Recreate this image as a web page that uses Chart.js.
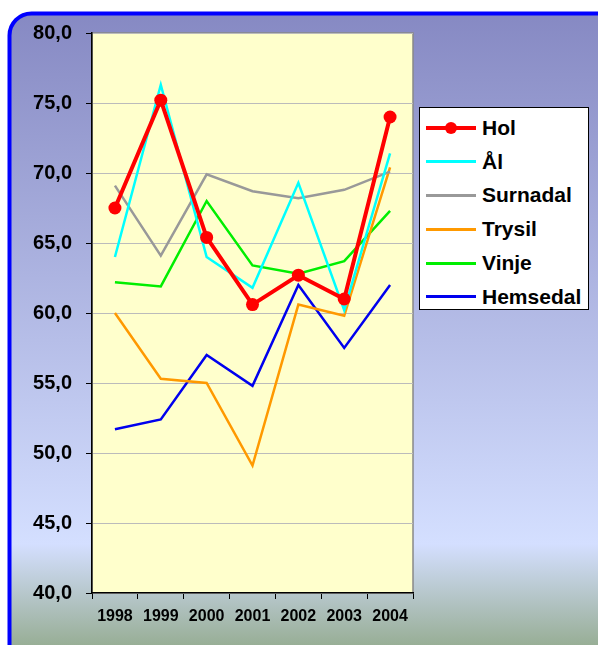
<!DOCTYPE html>
<html>
<head>
<meta charset="utf-8">
<script src="https://cdn.jsdelivr.net/npm/chart.js@4.4.1/dist/chart.umd.min.js"></script>
<style>
  html, body { margin: 0; padding: 0; background: #fff; }
  #wrap { position: relative; width: 598px; height: 645px; }
  #legend {
    position: absolute; left: 419px; top: 107px; width: 170px; height: 203px;
    background: #fff; border: 1px solid #000; box-sizing: border-box;
    padding-top: 3px;
    font-family: "Liberation Sans", Arial, sans-serif; font-weight: bold; font-size: 21px;
  }
  .item { height: 33.8px; display: flex; align-items: center; }
  .sample { position: relative; width: 50px; margin-left: 6px; margin-right: 6px; }
  .dot { position: absolute; left: 19px; width: 12px; height: 12px; border-radius: 50%; }
</style>
</head>
<body>
<div id="wrap">
  <canvas id="c" width="598" height="645"></canvas>
  <div id="legend"></div>
</div>
<script>
const years = ['1998', '1999', '2000', '2001', '2002', '2003', '2004'];
const hol      = [67.5, 75.2, 65.4, 60.6, 62.7, 61.0, 74.0];
const al       = [64.0, 76.3, 64.0, 61.8, 69.3, 60.2, 71.4];
const surnadal = [69.1, 64.1, 69.9, 68.7, 68.2, 68.8, 70.1];
const trysil   = [60.0, 55.3, 55.0, 49.1, 60.6, 59.8, 70.4];
const vinje    = [62.2, 61.9, 68.0, 63.4, 62.8, 63.7, 67.3];
const hemsedal = [51.7, 52.4, 57.0, 54.8, 62.0, 57.5, 62.0];
const yTicks = [40, 45, 50, 55, 60, 65, 70, 75, 80];

const fmt = v => v.toFixed(1).replace('.', ',');

const bgPlugin = {
  id: 'bg',
  beforeDraw(chart) {
    const c = chart.ctx, a = chart.chartArea;
    c.save();
    const g = c.createLinearGradient(0, 13, 0, 645);
    g.addColorStop(0, '#8689c3');
    g.addColorStop(0.84, '#d4dfff');
    g.addColorStop(1, '#98ae96');
    c.beginPath();
    c.roundRect(9.5, 13.5, 610, 660, 22);
    c.fillStyle = g;
    c.fill();
    c.lineWidth = 4;
    c.strokeStyle = '#0000ff';
    c.stroke();
    c.fillStyle = '#ffffcc';
    c.fillRect(a.left, a.top, a.right - a.left, a.bottom - a.top);
    c.strokeStyle = '#888';
    c.lineWidth = 1.5;
    c.strokeRect(a.left, a.top, a.right - a.left, a.bottom - a.top);
    c.restore();
  }
};

const series = [
  { label: 'Hol', data: hol, borderColor: '#ff0000', backgroundColor: '#ff0000', borderWidth: 4, pointRadius: 6.5, pointBorderWidth: 0 },
  { label: 'Ål', data: al, borderColor: '#00ffff' },
  { label: 'Surnadal', data: surnadal, borderColor: '#999999' },
  { label: 'Trysil', data: trysil, borderColor: '#ff9900' },
  { label: 'Vinje', data: vinje, borderColor: '#00ee00' },
  { label: 'Hemsedal', data: hemsedal, borderColor: '#0000ee' }
].map(s => Object.assign({ borderWidth: 2.5, pointRadius: 0, tension: 0 }, s));

new Chart(document.getElementById('c'), {
  type: 'line',
  data: { labels: years, datasets: series },
  plugins: [bgPlugin],
  options: {
    responsive: false,
    devicePixelRatio: 1,
    animation: false,
    layout: { padding: { top: 33, right: 185, left: 0, bottom: 0 } },
    plugins: { legend: { display: false }, tooltip: { enabled: false } },
    scales: {
      x: {
        offset: true,
        afterFit: s => { s.height = 52; },
        grid: { offset: true, drawOnChartArea: false, tickColor: '#000', tickLength: 6 },
        border: { color: '#000', width: 1.5 },
        ticks: { color: '#000', padding: 8, maxRotation: 0,
          font: { family: '"Liberation Sans", Arial, sans-serif', weight: 'bold', size: 16 } }
      },
      y: {
        min: yTicks[0], max: yTicks[yTicks.length - 1],
        afterFit: s => { s.width = 92; },
        afterBuildTicks: s => { s.ticks = yTicks.map(v => ({ value: v })); },
        grid: { color: '#bbbbbb', tickColor: '#000', tickLength: 6 },
        border: { color: '#000', width: 1.5 },
        ticks: { color: '#000', padding: 14, callback: v => fmt(v),
          font: { family: '"Liberation Sans", Arial, sans-serif', weight: 'bold', size: 20 } }
      }
    }
  }
});

const leg = document.getElementById('legend');
series.forEach(s => {
  const row = document.createElement('div');
  row.className = 'item';
  const sm = document.createElement('div');
  sm.className = 'sample';
  sm.style.height = (s.label === 'Hol' ? 4 : 3) + 'px';
  sm.style.background = s.borderColor;
  if (s.pointRadius) {
    const d = document.createElement('div');
    d.className = 'dot';
    d.style.background = s.borderColor;
    d.style.top = ((parseFloat(sm.style.height) - 12) / 2) + 'px';
    sm.appendChild(d);
  }
  row.appendChild(sm);
  row.appendChild(document.createTextNode(s.label));
  leg.appendChild(row);
});
</script>
</body>
</html>
